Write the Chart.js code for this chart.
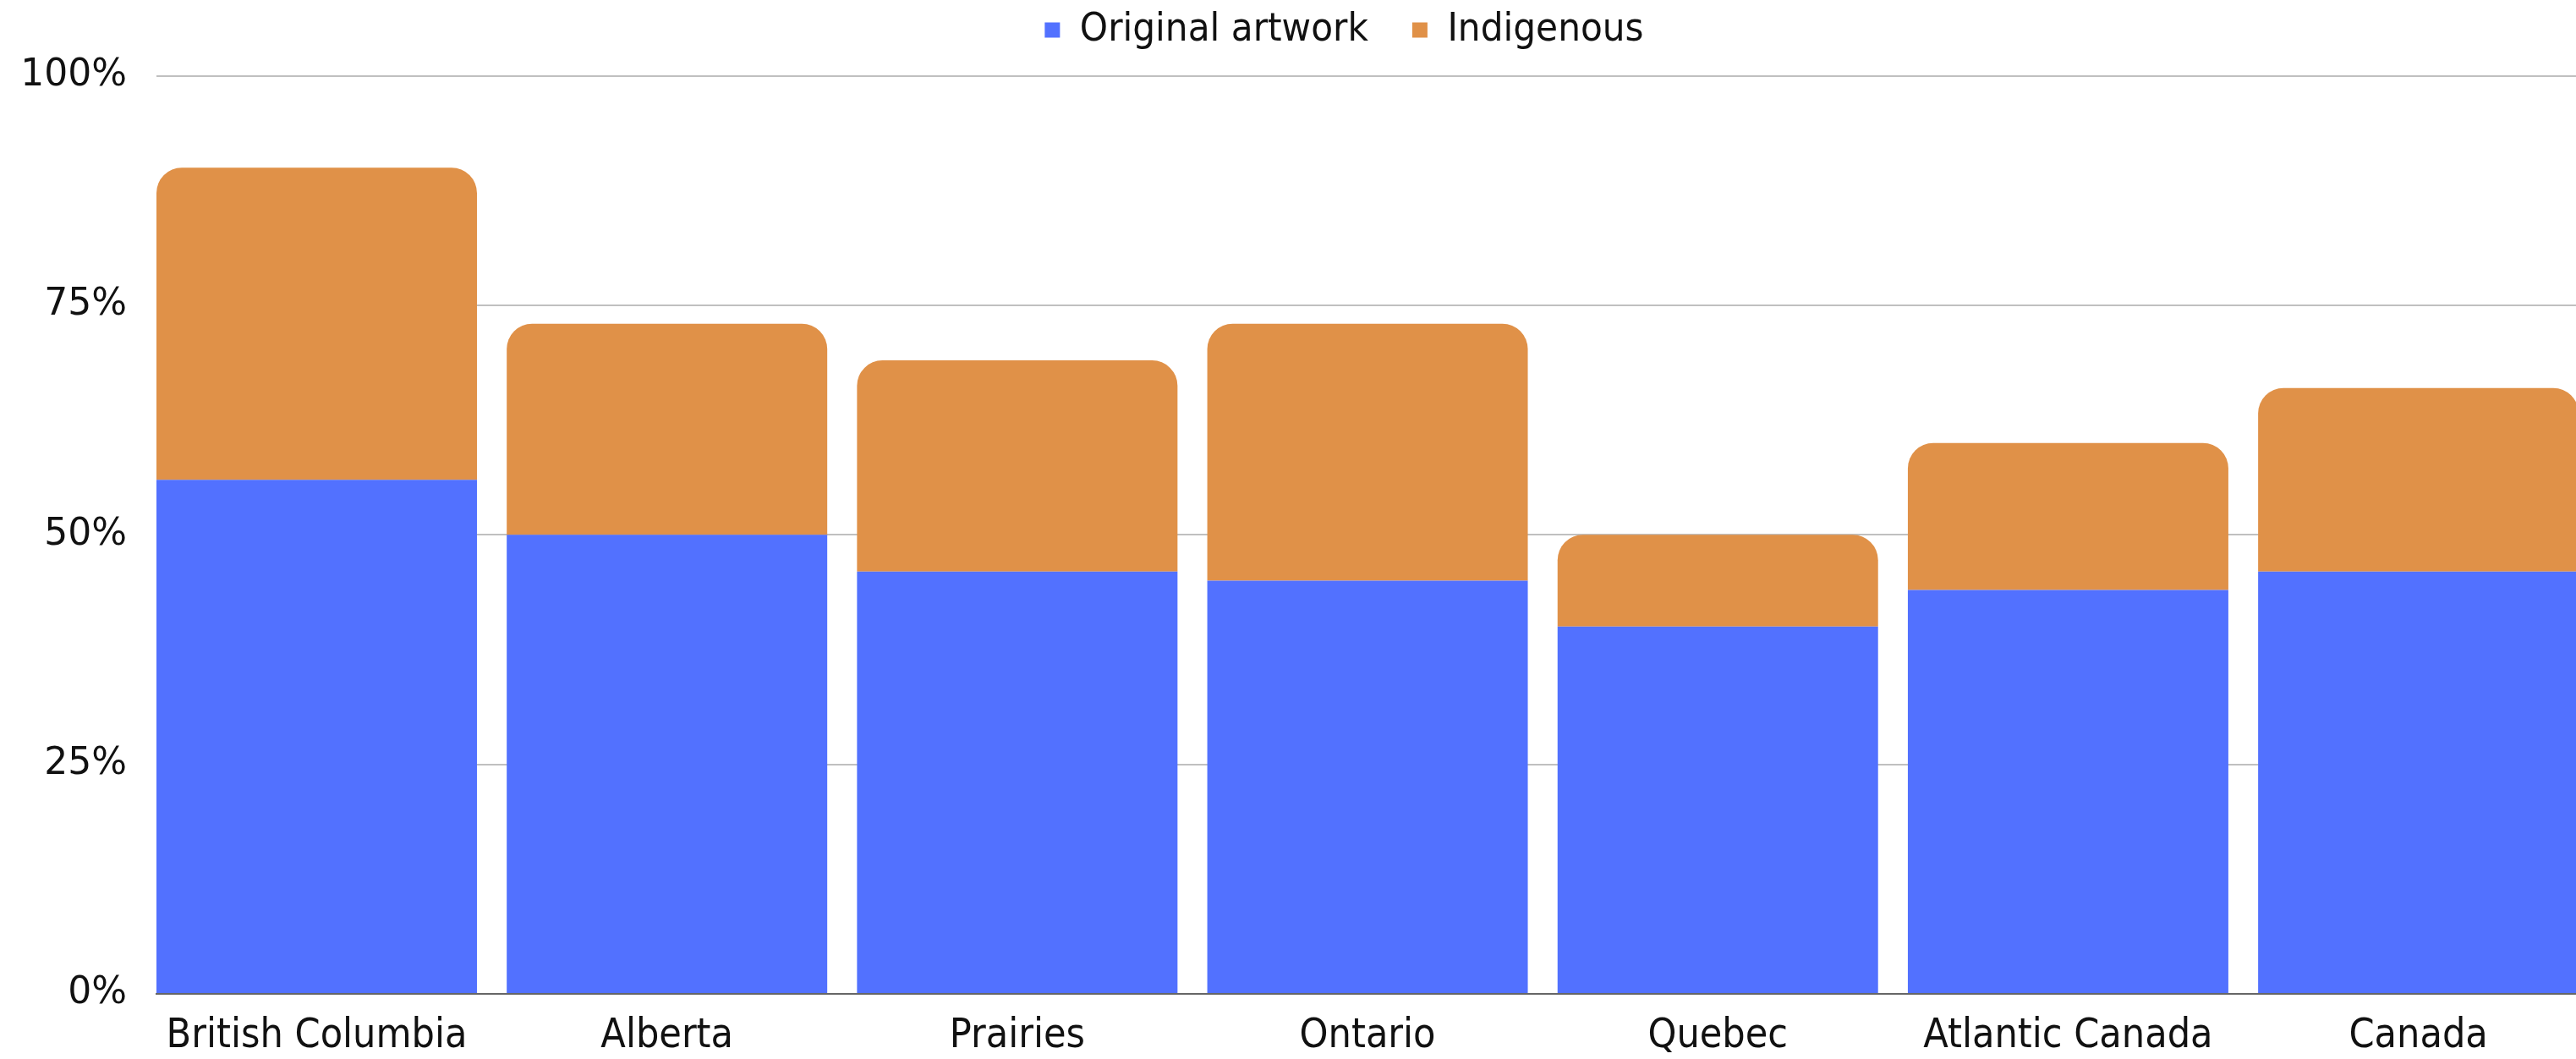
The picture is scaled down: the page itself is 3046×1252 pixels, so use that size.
<!DOCTYPE html>
<html>
<head>
<meta charset="utf-8">
<script src="https://cdn.jsdelivr.net/npm/chart.js@4.4.1/dist/chart.umd.min.js"></script>
<style>
  html, body { margin: 0; padding: 0; background: #fff; overflow: hidden; }
  canvas { display: block; }
</style>
</head>
<body>
<canvas id="grafico" width="3046" height="1252"></canvas>
<script>
// Datos
const categories = ['British Columbia', 'Alberta', 'Prairies', 'Ontario', 'Quebec', 'Atlantic Canada', 'Canada'];
const originalArtwork = [56, 50, 46, 45, 40, 44, 46];
const indigenous = [34, 23, 23, 28, 10, 16, 20];
const yTicks = [0, 25, 50, 75, 100];

const narrow = "'Liberation Sans Narrow', 'DejaVu Sans Condensed', sans-serif";

const data = {
    datasets: [{
        label: 'Original artwork',
        data: originalArtwork.map((v, i) => ({ x: i, y: v })),
        backgroundColor: '#5271FF',
        categoryPercentage: 1,
        barPercentage: 0.915,
    }, {
        label: 'Indigenous',
        data: indigenous.map((v, i) => ({ x: i, y: v })),
        backgroundColor: '#E09148',
        borderRadius: { topLeft: 30, topRight: 30, bottomLeft: 0, bottomRight: 0 },
        borderSkipped: 'start',
        categoryPercentage: 1,
        barPercentage: 0.915,
    }]
};

// corre la leyenda un poco a la izquierda
const moverLeyenda = {
    id: 'moverLeyenda',
    afterLayout(chart) { chart.legend.left -= 52; }
};

const config = {
    type: 'bar',
    data: data,
    plugins: [moverLeyenda],
    options: {
        responsive: false,
        animation: false,
        // el padding negativo sube la leyenda (su padding interno es grande)
        layout: { padding: { top: -40, left: 0, right: 0, bottom: 0 } },
        plugins: {
            legend: {
                display: true,
                position: 'top',
                fullSize: false,
                labels: {
                    boxWidth: 18,
                    boxHeight: 18,
                    padding: 52,
                    color: '#111',
                    font: { family: narrow, size: 47 }
                }
            },
            tooltip: { enabled: false }
        },
        scales: {
            x: {
                type: 'linear',
                stacked: true,
                offset: false,
                min: -0.4575,
                max: 6.45,
                afterBuildTicks: (scale) => { scale.ticks = categories.map((c, i) => ({ value: i })); },
                afterFit: (scale) => { scale.height = 77; },
                grid: { display: false, offset: false },
                border: { display: true, color: '#666', width: 2 },
                ticks: {
                    autoSkip: false,
                    maxRotation: 0,
                    padding: 14,
                    color: '#111',
                    font: { family: narrow, size: 48 },
                    callback: (v) => categories[v]
                }
            },
            y: {
                stacked: true,
                min: 0,
                max: 101.9,
                afterBuildTicks: (scale) => { scale.ticks = yTicks.map(v => ({ value: v })); },
                afterFit: (scale) => { scale.width = 185; },
                grid: { color: '#c0c0c0', lineWidth: 2, drawTicks: false },
                border: { display: false },
                ticks: {
                    padding: 35,
                    color: '#111',
                    font: { family: "'DejaVu Sans', sans-serif", size: 44 },
                    callback: (v) => v + '%'
                }
            }
        }
    }
};

new Chart(document.getElementById('grafico'), config);
</script>
</body>
</html>
